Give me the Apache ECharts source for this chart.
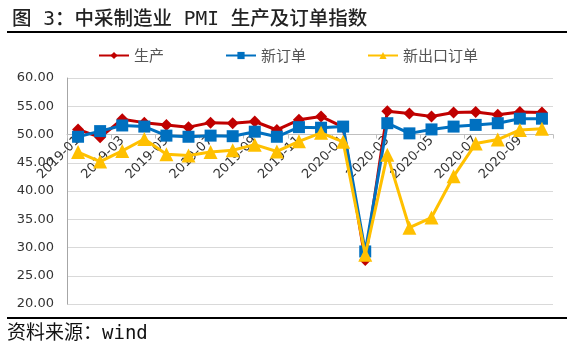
<!DOCTYPE html>
<html>
<head>
<meta charset="utf-8">
<script src="https://cdn.jsdelivr.net/npm/echarts@6/dist/echarts.min.js"></script>
<style>
html, body { margin: 0; padding: 0; background: #fff; }
#chart { width: 573px; height: 354px; }
</style>
</head>
<body>
<div id="chart"></div>
<script>
var months = ['2019-01', '2019-02', '2019-03', '2019-04', '2019-05', '2019-06', '2019-07', '2019-08',
	'2019-09', '2019-10', '2019-11', '2019-12', '2020-01', '2020-02', '2020-03', '2020-04',
	'2020-05', '2020-06', '2020-07', '2020-08', '2020-09', '2020-10'];
var production = [50.9, 49.5, 52.7, 52.1, 51.7, 51.3, 52.1, 52.0, 52.3, 50.8, 52.6, 53.2,
	51.3, 27.8, 54.1, 53.7, 53.2, 53.9, 54.0, 53.5, 54.0, 53.9];
var newOrders = [49.6, 50.6, 51.6, 51.4, 49.8, 49.6, 49.8, 49.7, 50.5, 49.6, 51.3, 51.2,
	51.4, 29.3, 52.0, 50.2, 50.9, 51.4, 51.7, 52.0, 52.8, 52.8];
var exportOrders = [46.9, 45.2, 47.1, 49.2, 46.5, 46.3, 46.9, 47.2, 48.2, 47.0, 48.8, 50.3,
	48.7, 28.7, 46.4, 33.5, 35.3, 42.6, 48.4, 49.1, 50.8, 51.0];

var myChart = echarts.init(document.getElementById('chart'));

var gridTop = 78, gridBottom = 50; // plot ends at y=304
var yMin = 20, yMax = 60, crossAt = 50;
var plotH = 354 - gridTop - gridBottom;
// category axis crosses the value axis at 50
var axisOffset = -(crossAt - yMin) / (yMax - yMin) * plotH;

var option = {
	animation: false,
	title: {
		text: '图 3：中采制造业 PMI 生产及订单指数',
		left: 7,
		top: 5,
		textStyle: {
			fontFamily: '"DejaVu Sans Mono", "Noto Sans CJK SC"',
			fontSize: 19.5,
			fontWeight: 500,
			color: '#222'
		}
	},
	legend: {
		top: 43,
		left: 93,
		itemGap: 61,
		itemWidth: 30,
		itemHeight: 9,
		textStyle: {
			fontFamily: 'Noto Sans CJK SC',
			fontSize: 15,
			color: '#555'
		},
		data: ['生产', '新订单', '新出口订单']
	},
	grid: {
		left: 67,
		right: 20,
		top: gridTop,
		bottom: gridBottom
	},
	xAxis: {
		type: 'category',
		data: months,
		offset: axisOffset,
		axisLine: { onZero: false, lineStyle: { color: '#bfbfbf' } },
		axisTick: { show: true, length: 4, lineStyle: { color: '#bfbfbf' } },
		axisLabel: {
			interval: 1,
			rotate: 45,
			fontFamily: 'DejaVu Sans',
			fontSize: 13,
			color: '#333',
			margin: 4
		}
	},
	yAxis: {
		type: 'value',
		min: yMin,
		max: yMax,
		interval: 5,
		axisLine: { show: true, lineStyle: { color: '#a6a6a6' } },
		axisTick: { show: false },
		splitLine: { lineStyle: { color: '#d9d9d9' } },
		axisLabel: {
			formatter: function (v) { return v.toFixed(2); },
			fontFamily: 'DejaVu Sans',
			fontSize: 13,
			color: '#333',
			margin: 13
		}
	},
	series: [{
		name: '生产',
		type: 'line',
		data: production,
		symbol: 'diamond',
		symbolSize: 12,
		lineStyle: { width: 3 },
		z: 3
	}, {
		name: '新订单',
		type: 'line',
		data: newOrders,
		symbol: 'rect',
		symbolSize: 12,
		lineStyle: { width: 3 },
		z: 4
	}, {
		name: '新出口订单',
		type: 'line',
		data: exportOrders,
		symbol: 'triangle',
		symbolSize: 14,
		lineStyle: { width: 3 },
		z: 5
	}],
	color: ['#c00000', '#0070c0', '#ffc000'],
	graphic: [{
		type: 'rect',
		shape: { x: 7, y: 31, width: 560, height: 2 },
		style: { fill: '#000' }
	}, {
		type: 'rect',
		shape: { x: 7, y: 317, width: 560, height: 2 },
		style: { fill: '#000' }
	}, {
		type: 'text',
		left: 7,
		top: 325,
		style: {
			text: '资料来源：wind',
			font: '19px "DejaVu Sans Mono", "Noto Sans CJK SC"',
			fill: '#111'
		}
	}]
};

myChart.setOption(option);
</script>
</body>
</html>
